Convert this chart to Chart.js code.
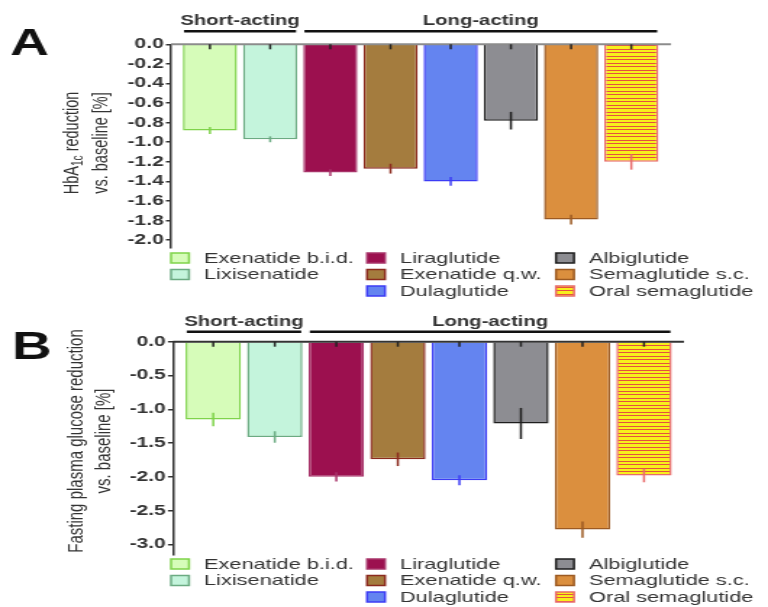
<!DOCTYPE html>
<html>
<head>
<meta charset="utf-8">
<script src="https://cdn.jsdelivr.net/npm/chart.js@4.4.1/dist/chart.umd.min.js"></script>
<style>
  html, body { margin: 0; padding: 0; background: #fff; }
  #wrap { position: relative; width: 768px; height: 607px; overflow: hidden; }
  canvas { position: absolute; left: 0; }
</style>
</head>
<body>
<div id="wrap">
  <canvas id="chartA" width="530" height="300" style="top:0;width:768px;height:300px"></canvas>
  <canvas id="chartB" width="530" height="307" style="top:300px;width:768px;height:307px"></canvas>
</div>
<script>
// data
const drugs = ['Exenatide b.i.d.', 'Lixisenatide', 'Liraglutide', 'Exenatide q.w.',
               'Dulaglutide', 'Albiglutide', 'Semaglutide s.c.', 'Oral semaglutide'];
const hba1cMeans  = [-0.88, -0.97, -1.31, -1.27, -1.40, -0.78, -1.79, -1.20];
const hba1cErrors = [0.035, 0.03, 0.035, 0.05, 0.045, 0.09, 0.05, 0.08];
const fpgMeans    = [-1.15, -1.41, -2.00, -1.74, -2.05, -1.21, -2.78, -1.98];
const fpgErrors   = [0.10, 0.085, 0.07, 0.10, 0.075, 0.23, 0.12, 0.10];
const groupNames = ['Short-acting', 'Long-acting'];
const groupFirst = [0, 2];
const groupLast  = [1, 7];

const fillColors   = ['#d6fcb9', '#c4f4dc', '#9c104f', '#a47c3e', '#6484f0', '#8d8d92', '#db8f3e', '#f8ef1c'];
const borderColors = ['#7fd34a', '#6bab82', '#a8346a', '#8b2a1e', '#3c3cf5', '#1e1e1e', '#9c5a22', '#e86a6a'];

const FONT = '"Liberation Sans", Arial, sans-serif';
const W = 530;
const S = 768 / W;          // canvas is drawn narrow and stretched wide, like the source
const lx = v => v / S;      // page x -> canvas x

// yellow with thin red stripes for oral semaglutide
function stripePattern() {
  const c = document.createElement('canvas');
  c.width = 4; c.height = 7;
  const g = c.getContext('2d');
  g.fillStyle = '#f8ef1c';
  g.fillRect(0, 0, 4, 7);
  g.fillStyle = '#e5503e';
  g.fillRect(0, 0, 4, 1);
  g.fillRect(0, 3, 4, 1);
  return g.createPattern(c, 'repeat');
}
const barFills = fillColors.map((c, i) => i === 7 ? stripePattern() : c);

// legend layout: column-major like the figure
const legendColumns = [[0, 1], [2, 3, 4], [5, 6, 7]];
const legendBoxX = [171, 367, 556];

function makeDecor(p) {
  return {
    id: 'decor',
    afterDatasetsDraw(chart) {
      const ctx = chart.ctx, area = chart.chartArea, y = chart.scales.y;
      const ds = chart.data.datasets[0];
      const bars = chart.getDatasetMeta(0).data;
      ctx.save();
      ctx.strokeStyle = p.zeroColor;
      ctx.lineWidth = 2;
      ctx.beginPath();
      ctx.moveTo(area.left, area.top);
      ctx.lineTo(area.right, area.top);
      ctx.stroke();
      bars.forEach((bar, i) => {
        const v = ds.data[i].y, e = ds.errors[i];
        ctx.lineWidth = 1.5;
        ctx.strokeStyle = borderColors[i];
        ctx.beginPath();
        ctx.moveTo(bar.x, y.getPixelForValue(v - e));
        ctx.lineTo(bar.x, y.getPixelForValue(v + e));
        ctx.stroke();
        ctx.strokeStyle = '#222';
        ctx.beginPath();
        ctx.moveTo(bar.x, area.top);
        ctx.lineTo(bar.x, area.top + 5);
        ctx.stroke();
      });
      ctx.restore();
    },
    afterDraw(chart) {
      const ctx = chart.ctx, area = chart.chartArea, x = chart.scales.x;
      ctx.save();
      ctx.fillStyle = '#111';

      // panel letter
      ctx.font = `bold ${p.letterSize}px ${FONT}`;
      ctx.textBaseline = 'alphabetic';
      ctx.textAlign = 'left';
      ctx.fillText(p.letter, lx(p.letterX), p.letterBase);

      // group headers
      ctx.font = `bold 14px ${FONT}`;
      ctx.textAlign = 'center';
      ctx.fillStyle = '#333';
      ctx.strokeStyle = '#111';
      ctx.lineWidth = 2.5;
      groupNames.forEach((name, g) => {
        const x1 = x.getPixelForValue(groupFirst[g] - 0.43);
        const x2 = x.getPixelForValue(groupLast[g] + 0.43);
        ctx.beginPath();
        ctx.moveTo(x1, area.top - p.headLine);
        ctx.lineTo(x2, area.top - p.headLine);
        ctx.stroke();
        ctx.fillText(name, (x1 + x2) / 2, area.top - p.headBase);
      });

      // y axis title, rotated, with optional subscript pieces
      p.titleLines.forEach((parts, li) => {
        ctx.save();
        ctx.translate(lx(p.titleX[li]), p.titleY);
        ctx.rotate(-Math.PI / 2);
        ctx.textAlign = 'left';
        ctx.textBaseline = 'middle';
        const fonts = parts.map((t, k) => `${k % 2 ? p.titleSize * 0.7 : p.titleSize}px ${FONT}`);
        let total = 0;
        const widths = parts.map((t, k) => {
          ctx.font = fonts[k];
          const w = ctx.measureText(t).width;
          total += w;
          return w;
        });
        let cx = -total / 2;
        parts.forEach((t, k) => {
          ctx.font = fonts[k];
          ctx.fillText(t, cx, k % 2 ? p.titleSize * 0.3 : 0);
          cx += widths[k];
        });
        ctx.restore();
      });

      // legend
      ctx.font = `15px ${FONT}`;
      ctx.textAlign = 'left';
      ctx.textBaseline = 'middle';
      legendColumns.forEach((col, c) => {
        col.forEach((idx, r) => {
          const bx = lx(legendBoxX[c]), by = p.legendRows[r];
          ctx.fillStyle = barFills[idx];
          ctx.fillRect(bx, by - 5, lx(18), 10);
          ctx.strokeStyle = borderColors[idx];
          ctx.lineWidth = 1.5;
          ctx.strokeRect(bx, by - 5, lx(18), 10);
          ctx.fillStyle = '#333';
          ctx.fillText(drugs[idx], lx(legendBoxX[c] + 33), by + 0.5);
        });
      });
      ctx.restore();
    }
  };
}

function drawPanel(p) {
  const el = document.getElementById(p.canvas);
  return new Chart(el, {
    type: 'bar',
    data: {
      datasets: [{
        data: p.means.map((v, i) => ({ x: i, y: v })),
        errors: p.errors,
        backgroundColor: barFills,
        borderColor: borderColors,
        borderWidth: 1.5,
        barPercentage: 0.9,
        categoryPercentage: 1
      }]
    },
    options: {
      responsive: false,
      animation: false,
      events: [],
      layout: { padding: { left: 0, right: W - lx(p.right), top: p.top, bottom: el.height - p.bottom } },
      plugins: { legend: { display: false }, tooltip: { enabled: false } },
      scales: {
        x: { type: 'linear', min: p.xMin, max: p.xMax, offset: false, display: false },
        y: {
          min: p.yMin,
          max: 0,
          afterFit: s => { s.width = lx(p.axisX); },
          border: { color: '#333', width: 1.5 },
          grid: { drawOnChartArea: false, color: '#333', lineWidth: 1.5, tickLength: 3.5 },
          ticks: {
            stepSize: p.step,
            includeBounds: false,
            autoSkip: false,
            maxTicksLimit: 20,
            padding: 1.5,
            color: '#333',
            font: { family: FONT, size: 14.5, weight: 'bold' },
            callback: v => v.toFixed(1)
          }
        }
      }
    },
    plugins: [makeDecor(p)]
  });
}

drawPanel({
  canvas: 'chartA', means: hba1cMeans, errors: hba1cErrors,
  yMin: -2.08, step: 0.2, axisX: 171, right: 671, top: 44.3, bottom: 248,
  xMin: -0.647, xMax: 7.66, zeroColor: '#8c8c8c',
  letter: 'A', letterX: 10, letterBase: 55, letterSize: 37,
  titleLines: [['HbA', '1c', ' reduction'], ['vs. baseline [%]']],
  titleX: [72, 102], titleY: 143, titleSize: 14.5,
  headBase: 19, headLine: 13, legendRows: [258, 274.5, 291]
});

drawPanel({
  canvas: 'chartB', means: fpgMeans, errors: fpgErrors,
  yMin: -3.15, step: 0.5, axisX: 173, right: 684, top: 41.7, bottom: 254.6,
  xMin: -0.654, xMax: 7.65, zeroColor: '#333',
  letter: 'B', letterX: 12, letterBase: 59, letterSize: 38,
  titleLines: [['Fasting plasma glucose reduction'], ['vs. baseline [%]']],
  titleX: [77, 104], titleY: 141, titleSize: 15,
  headBase: 16, headLine: 10, legendRows: [264, 280.5, 297]
});
</script>
</body>
</html>
